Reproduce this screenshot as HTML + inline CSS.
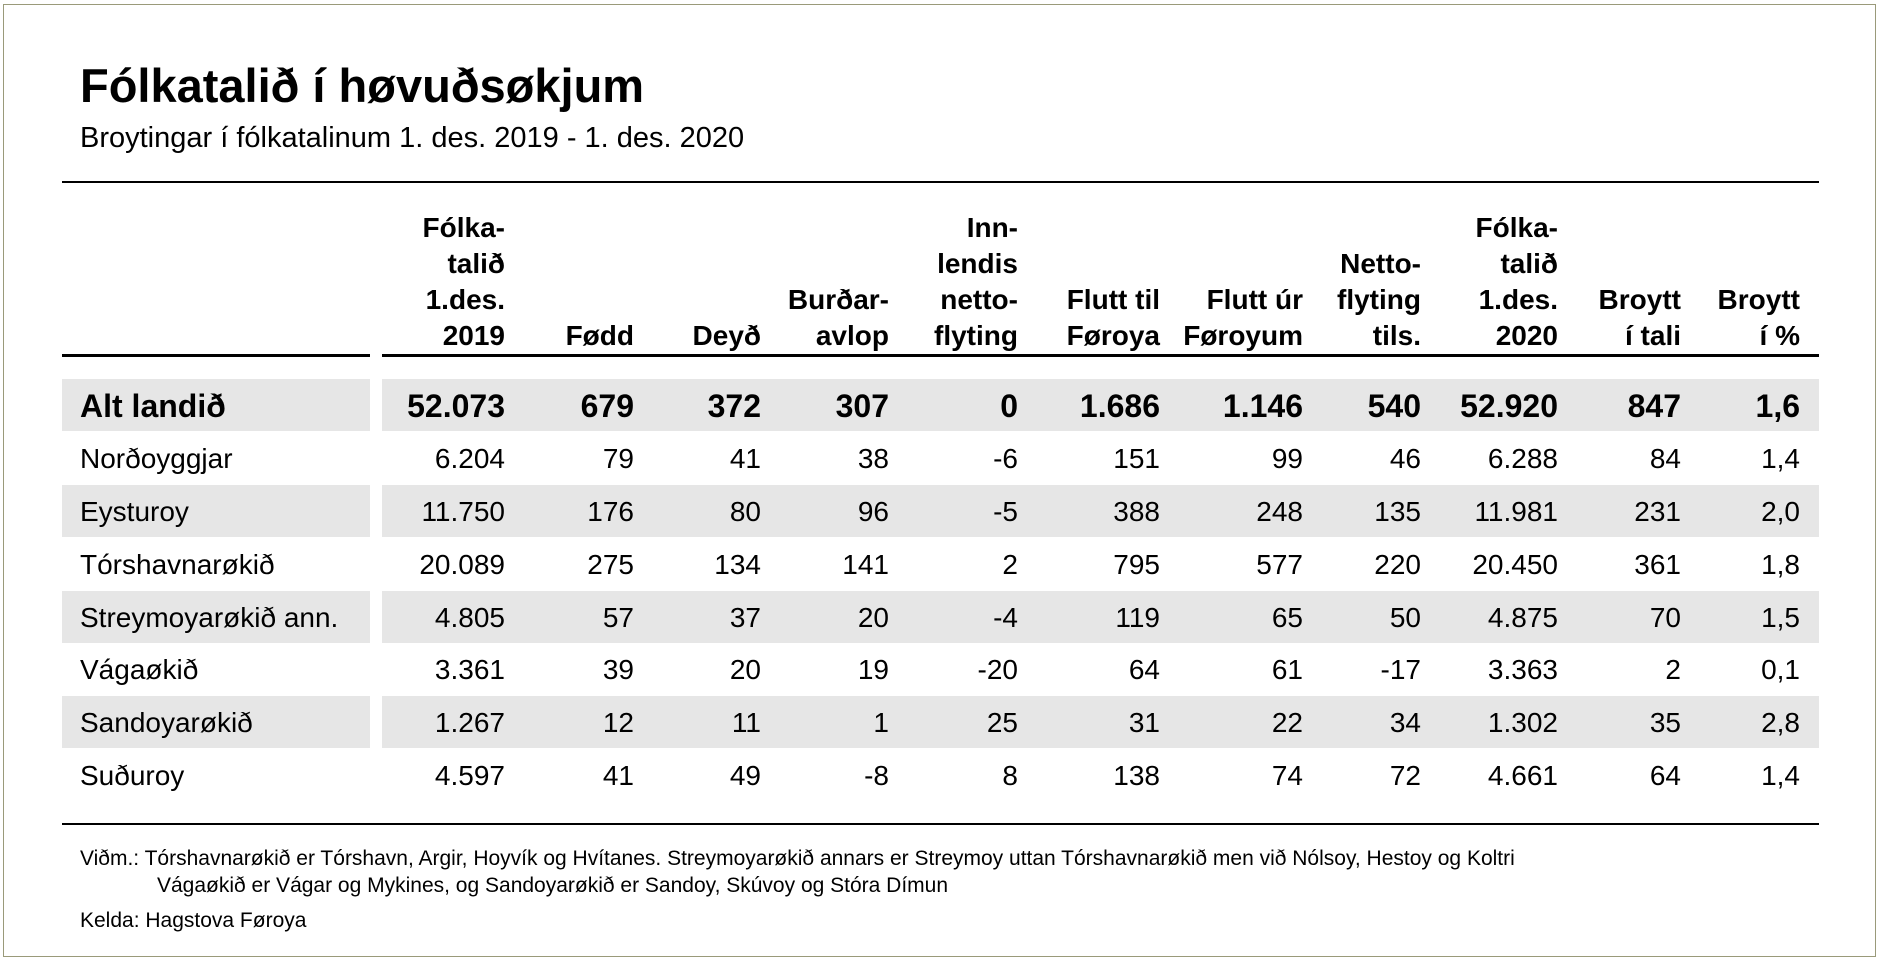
<!DOCTYPE html>
<html><head><meta charset="utf-8">
<style>
html,body{margin:0;padding:0;background:#fff;}
body{width:1881px;height:965px;position:relative;overflow:hidden;font-family:"Liberation Sans",Arial,sans-serif;color:#000;}
.frame{position:absolute;left:3px;top:4px;width:1873px;height:953px;border:1px solid #9a9a7a;box-sizing:border-box;}
.a{position:absolute;white-space:nowrap;}
.h{position:absolute;text-align:right;font-weight:bold;font-size:28px;line-height:36px;bottom:611px;}
.band{position:absolute;background:#e6e6e6;height:52px;}
.r{position:absolute;left:0;width:1881px;height:52px;line-height:52px;font-size:28px;}
.r span{position:absolute;text-align:right;}
.r span.l{left:80px;text-align:left;}
.b{font-weight:bold;font-size:32px;}
.rule{position:absolute;background:#000;}
</style></head><body>
<div class="frame"></div>
<div class="a" style="left:80px;top:58px;font-size:47px;font-weight:bold;">Fólkatalið í høvuðsøkjum</div>
<div class="a" style="left:80px;top:122px;font-size:29px;">Broytingar í fólkatalinum 1. des. 2019 - 1. des. 2020</div>
<div class="rule" style="left:62px;top:181px;width:1757px;height:2px;"></div>

<div class="h" style="right:1376px;">Fólka-<br>talið<br>1.des.<br>2019</div>
<div class="h" style="right:1247px;">Fødd</div>
<div class="h" style="right:1120px;">Deyð</div>
<div class="h" style="right:992px;">Burðar-<br>avlop</div>
<div class="h" style="right:863px;">Inn-<br>lendis<br>netto-<br>flyting</div>
<div class="h" style="right:721px;">Flutt til<br>Føroya</div>
<div class="h" style="right:578px;">Flutt úr<br>Føroyum</div>
<div class="h" style="right:460px;">Netto-<br>flyting<br>tils.</div>
<div class="h" style="right:323px;">Fólka-<br>talið<br>1.des.<br>2020</div>
<div class="h" style="right:200px;">Broytt<br>í tali</div>
<div class="h" style="right:81px;">Broytt<br>í %</div>

<div class="rule" style="left:62px;top:354px;width:308px;height:3px;"></div>
<div class="rule" style="left:382px;top:354px;width:1437px;height:3px;"></div>

<div class="band" style="left:62px;top:379px;width:308px;"></div>
<div class="band" style="left:382px;top:379px;width:1437px;"></div>
<div class="band" style="left:62px;top:485px;width:308px;"></div>
<div class="band" style="left:382px;top:485px;width:1437px;"></div>
<div class="band" style="left:62px;top:591px;width:308px;"></div>
<div class="band" style="left:382px;top:591px;width:1437px;"></div>
<div class="band" style="left:62px;top:696px;width:308px;"></div>
<div class="band" style="left:382px;top:696px;width:1437px;"></div>

<div class="r b" style="top:380px;"><span class="l">Alt landið</span><span style="right:1376px">52.073</span><span style="right:1247px">679</span><span style="right:1120px">372</span><span style="right:992px">307</span><span style="right:863px">0</span><span style="right:721px">1.686</span><span style="right:578px">1.146</span><span style="right:460px">540</span><span style="right:323px">52.920</span><span style="right:200px">847</span><span style="right:81px">1,6</span></div>
<div class="r" style="top:433px;"><span class="l">Norðoyggjar</span><span style="right:1376px">6.204</span><span style="right:1247px">79</span><span style="right:1120px">41</span><span style="right:992px">38</span><span style="right:863px">-6</span><span style="right:721px">151</span><span style="right:578px">99</span><span style="right:460px">46</span><span style="right:323px">6.288</span><span style="right:200px">84</span><span style="right:81px">1,4</span></div>
<div class="r" style="top:486px;"><span class="l">Eysturoy</span><span style="right:1376px">11.750</span><span style="right:1247px">176</span><span style="right:1120px">80</span><span style="right:992px">96</span><span style="right:863px">-5</span><span style="right:721px">388</span><span style="right:578px">248</span><span style="right:460px">135</span><span style="right:323px">11.981</span><span style="right:200px">231</span><span style="right:81px">2,0</span></div>
<div class="r" style="top:539px;"><span class="l">Tórshavnarøkið</span><span style="right:1376px">20.089</span><span style="right:1247px">275</span><span style="right:1120px">134</span><span style="right:992px">141</span><span style="right:863px">2</span><span style="right:721px">795</span><span style="right:578px">577</span><span style="right:460px">220</span><span style="right:323px">20.450</span><span style="right:200px">361</span><span style="right:81px">1,8</span></div>
<div class="r" style="top:592px;"><span class="l">Streymoyarøkið ann.</span><span style="right:1376px">4.805</span><span style="right:1247px">57</span><span style="right:1120px">37</span><span style="right:992px">20</span><span style="right:863px">-4</span><span style="right:721px">119</span><span style="right:578px">65</span><span style="right:460px">50</span><span style="right:323px">4.875</span><span style="right:200px">70</span><span style="right:81px">1,5</span></div>
<div class="r" style="top:644px;"><span class="l">Vágaøkið</span><span style="right:1376px">3.361</span><span style="right:1247px">39</span><span style="right:1120px">20</span><span style="right:992px">19</span><span style="right:863px">-20</span><span style="right:721px">64</span><span style="right:578px">61</span><span style="right:460px">-17</span><span style="right:323px">3.363</span><span style="right:200px">2</span><span style="right:81px">0,1</span></div>
<div class="r" style="top:697px;"><span class="l">Sandoyarøkið</span><span style="right:1376px">1.267</span><span style="right:1247px">12</span><span style="right:1120px">11</span><span style="right:992px">1</span><span style="right:863px">25</span><span style="right:721px">31</span><span style="right:578px">22</span><span style="right:460px">34</span><span style="right:323px">1.302</span><span style="right:200px">35</span><span style="right:81px">2,8</span></div>
<div class="r" style="top:750px;"><span class="l">Suðuroy</span><span style="right:1376px">4.597</span><span style="right:1247px">41</span><span style="right:1120px">49</span><span style="right:992px">-8</span><span style="right:863px">8</span><span style="right:721px">138</span><span style="right:578px">74</span><span style="right:460px">72</span><span style="right:323px">4.661</span><span style="right:200px">64</span><span style="right:81px">1,4</span></div>

<div class="rule" style="left:62px;top:823px;width:1757px;height:2px;"></div>
<div class="a" style="left:80px;top:847px;font-size:21px;">Viðm.: Tórshavnarøkið er Tórshavn, Argir, Hoyvík og Hvítanes. Streymoyarøkið annars er Streymoy uttan Tórshavnarøkið men við Nólsoy, Hestoy og Koltri</div>
<div class="a" style="left:157px;top:874px;font-size:21px;">Vágaøkið er Vágar og Mykines, og Sandoyarøkið er Sandoy, Skúvoy og Stóra Dímun</div>
<div class="a" style="left:80px;top:909px;font-size:21px;">Kelda: Hagstova Føroya</div>
</body></html>
